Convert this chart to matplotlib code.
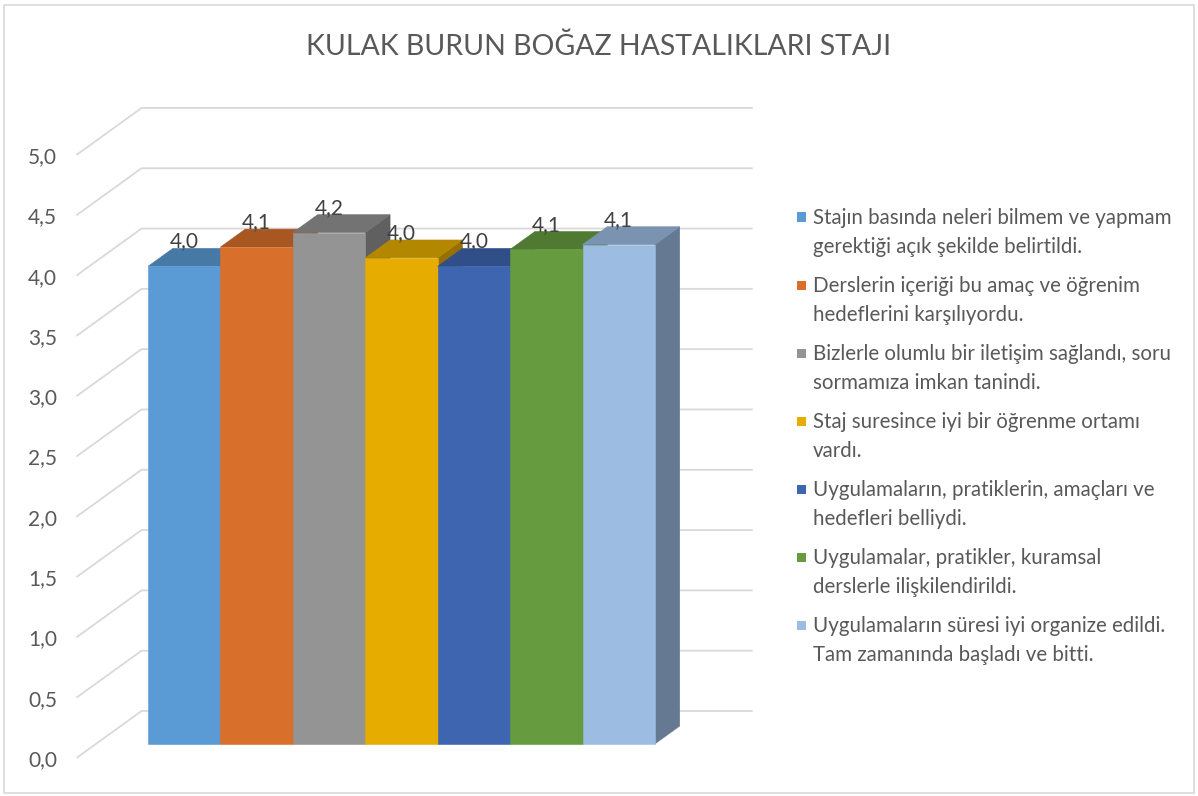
import matplotlib.pyplot as plt
import matplotlib.colors as mcolors
from matplotlib.patches import Rectangle, Polygon

plt.rcParams['font.family'] = ['Lato', 'DejaVu Sans']

TITLE = 'KULAK BURUN BOĞAZ HASTALIKLARI STAJI'
QUESTIONS = [
    'Stajın basında neleri bilmem ve yapmam\ngerektiği açık şekilde belirtildi.',
    'Derslerin içeriği bu amaç ve öğrenim\nhedeflerini karşılıyordu.',
    'Bizlerle olumlu bir iletişim sağlandı, soru\nsormamıza imkan tanindi.',
    'Staj suresince iyi bir öğrenme ortamı\nvardı.',
    'Uygulamaların, pratiklerin, amaçları ve\nhedefleri belliydi.',
    'Uygulamalar, pratikler, kuramsal\nderslerle ilişkilendirildi.',
    'Uygulamaların süresi iyi organize edildi.\nTam zamanında başladı ve bitti.',
]
SCORES = [3.96, 4.12, 4.24, 4.03, 3.96, 4.10, 4.14]
Y_TICKS = [0.0, 0.5, 1.0, 1.5, 2.0, 2.5, 3.0, 3.5, 4.0, 4.5, 5.0]
BAR_COLORS = ['#5b9bd5', '#d8702c', '#949494', '#e6ad00',
              '#3d65b0', '#669b40', '#9cbce1']

# oblique 3d look: depth shifts points right and up
DX, DY = 0.90, 0.39
D_FRONT, D_BACK = 0.30, 0.68
X_LO, X_HI = -0.72, 7.72
GRID = '#d9d9d9'
TEXT = '#595959'


def proj(x, v, d):
    return x + d * DX, v + d * DY


def shade(c, k):
    r, g, b = mcolors.to_rgb(c)
    return (r * k, g * k, b * k)


fig = plt.figure(figsize=(11.98, 7.96), dpi=100)
ax = fig.add_axes([0, 0, 1, 1])
ax.set_xlim(-1.775, 14.77)
ax.set_ylim(-0.315, 6.285)
ax.axis('off')

# walls gridlines
for t in Y_TICKS:
    p0 = proj(X_LO, t, 0)
    p1 = proj(X_LO, t, 1)
    p2 = proj(X_HI, t, 1)
    ax.plot([p0[0], p1[0], p2[0]], [p0[1], p1[1], p2[1]],
            color=GRID, lw=1.3, zorder=1, solid_capstyle='butt')
    ax.annotate(f'{t:.1f}'.replace('.', ','), xy=p0, xytext=(-14, -1.5),
                textcoords='offset points', ha='right', va='center',
                fontsize=15, color=TEXT)

# bars
for i, (v, c) in enumerate(zip(SCORES, BAR_COLORS)):
    z = 10 + i
    side = [proj(i + 1, 0, D_FRONT), proj(i + 1, v, D_FRONT),
            proj(i + 1, v, D_BACK), proj(i + 1, 0, D_BACK)]
    top = [proj(i, v, D_FRONT), proj(i + 1, v, D_FRONT),
           proj(i + 1, v, D_BACK), proj(i, v, D_BACK)]
    ax.add_patch(Polygon(side, closed=True, facecolor=shade(c, 0.65),
                         edgecolor=shade(c, 0.65), lw=0.4, zorder=z))
    ax.add_patch(Polygon(top, closed=True, facecolor=shade(c, 0.78),
                         edgecolor=shade(c, 0.78), lw=0.4, zorder=z))
    ax.add_patch(Rectangle(proj(i, 0, D_FRONT), 1, v, facecolor=c,
                           edgecolor=c, lw=0.4, zorder=z))

for i, v in enumerate(SCORES):
    x = proj(i + 0.5, v, D_FRONT)[0]
    y = proj(i + 0.5, v, D_BACK)[1]
    ax.annotate(f'{v:.1f}'.replace('.', ','), xy=(x, y), xytext=(0, 5),
                textcoords='offset points', ha='center', va='center',
                fontsize=15, color='#404040', zorder=50)

fig.text(0.5, 1 - 47 / 796, TITLE, ha='center', va='center',
         fontsize=20.5, color=TEXT)

# legend, drawn by hand so the marker sits on the first line
W, H = 1198, 796
for k, (lab, c) in enumerate(zip(QUESTIONS, BAR_COLORS)):
    y_line = 217 + 68 * k
    fig.add_artist(Rectangle((797 / W, 1 - (y_line + 4.5) / H), 9 / W, 9 / H,
                             transform=fig.transFigure, facecolor=c,
                             edgecolor='none'))
    fig.text(813 / W, 1 - (y_line - 9) / H, lab, ha='left', va='top',
             fontsize=14.8, color=TEXT, linespacing=1.55)

fig.add_artist(Rectangle((0.003, 0.004), 0.994, 0.99,
                         transform=fig.transFigure, fill=False,
                         edgecolor=GRID, lw=1.2))

fig.savefig('out.png', dpi=100)
